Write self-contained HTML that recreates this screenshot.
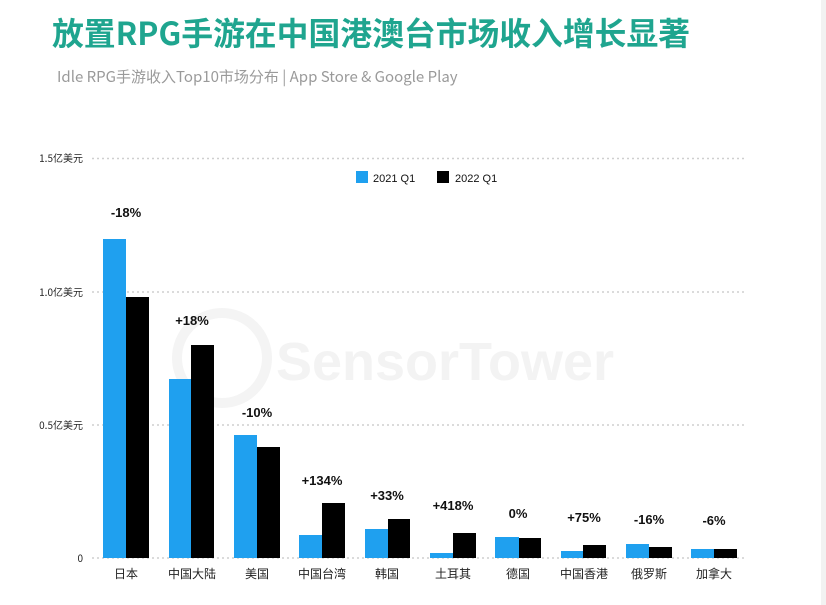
<!DOCTYPE html>
<html><head><meta charset="utf-8"><style>
body{margin:0;background:#fff;width:826px;height:605px;overflow:hidden;font-family:"Liberation Sans","Noto Sans CJK SC",sans-serif}
</style></head><body>
<svg width="826" height="605" xmlns="http://www.w3.org/2000/svg" style="position:absolute;left:0;top:0">
<rect x="821" y="0" width="5" height="605" fill="#f2f2f2"/>
<text x="52" y="45" font-size="31.8" font-weight="bold" fill="#1fa58f" font-family="'Noto Sans CJK SC',sans-serif">放置RPG手游在中国港澳台市场收入增长显著</text>
<text x="57" y="82" font-size="15" fill="#9a9a9a" font-family="'Noto Sans CJK SC',sans-serif">Idle RPG手游收入Top10市场分布 | App Store &amp; Google Play</text>
<text x="445" y="380" font-size="54" fill="#f3f3f3" text-anchor="middle" font-family="'Liberation Sans',sans-serif" font-weight="bold">SensorTower</text>
<circle cx="222" cy="358" r="45" fill="none" stroke="#f4f4f4" stroke-width="10"/>
<g stroke="#cfcfcf" stroke-width="1.5" stroke-dasharray="2,3">
<line x1="92" y1="158.5" x2="747" y2="158.5"/><line x1="92" y1="292" x2="747" y2="292"/><line x1="92" y1="425" x2="747" y2="425"/><line x1="92" y1="558" x2="747" y2="558"/>
</g>
<g font-size="10" fill="#222" text-anchor="end" font-family="'Noto Sans CJK SC',sans-serif">
<text x="83" y="162">1.5亿美元</text><text x="83" y="296">1.0亿美元</text><text x="83" y="429">0.5亿美元</text><text x="83" y="562">0</text>
</g>
<rect x="356" y="171" width="12" height="12" fill="#1fa0ef"/><text x="373" y="182" font-size="11" fill="#111">2021 Q1</text>
<rect x="437" y="171" width="12" height="12" fill="#000"/><text x="455" y="182" font-size="11" fill="#111">2022 Q1</text>
<g fill="#1fa0ef">
<rect x="103" y="239" width="23" height="319"/><rect x="169" y="379" width="22" height="179"/><rect x="234" y="435" width="23" height="123"/><rect x="299" y="535" width="23" height="23"/><rect x="365" y="529" width="23" height="29"/><rect x="430" y="553" width="23" height="5"/><rect x="495" y="537" width="24" height="21"/><rect x="561" y="551" width="23" height="7"/><rect x="626" y="544" width="23" height="14"/><rect x="691" y="549" width="23" height="9"/>
</g>
<g fill="#000">
<rect x="126" y="297" width="23" height="261"/><rect x="191" y="345" width="23" height="213"/><rect x="257" y="447" width="23" height="111"/><rect x="322" y="503" width="23" height="55"/><rect x="388" y="519" width="22" height="39"/><rect x="453" y="533" width="23" height="25"/><rect x="519" y="538" width="22" height="20"/><rect x="583" y="545" width="23" height="13"/><rect x="649" y="547" width="23" height="11"/><rect x="714" y="549" width="23" height="9"/>
</g>
<g font-size="13" font-weight="bold" fill="#111" text-anchor="middle">
<text x="126" y="217">-18%</text><text x="192" y="325">+18%</text><text x="257" y="417">-10%</text><text x="322" y="485">+134%</text><text x="387" y="500">+33%</text><text x="453" y="510">+418%</text><text x="518" y="518">0%</text><text x="584" y="522">+75%</text><text x="649" y="524">-16%</text><text x="714" y="525">-6%</text>
</g>
<g font-size="12" fill="#222" text-anchor="middle" font-family="'Noto Sans CJK SC',sans-serif">
<text x="126" y="578">日本</text><text x="192" y="578">中国大陆</text><text x="257" y="578">美国</text><text x="322" y="578">中国台湾</text><text x="387" y="578">韩国</text><text x="453" y="578">土耳其</text><text x="518" y="578">德国</text><text x="584" y="578">中国香港</text><text x="649" y="578">俄罗斯</text><text x="714" y="578">加拿大</text>
</g>
</svg>
</body></html>
